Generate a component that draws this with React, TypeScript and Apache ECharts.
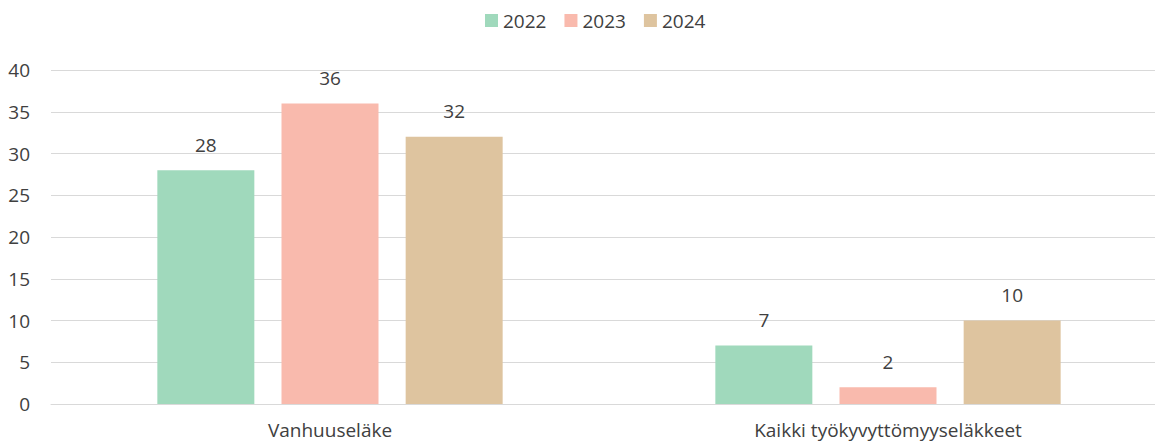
import React, { useEffect, useRef } from "react";
import * as echarts from "echarts";

const categories = ["Vanhuuseläke", "Kaikki työkyvyttömyyseläkkeet"];
const years = ["2022", "2023", "2024"];
const values2022 = [28, 7];
const values2023 = [36, 2];
const values2024 = [32, 10];
const colors = ["#A0D9BC", "#F9BAAD", "#DEC49F"];
const yTicks = { min: 0, max: 40, interval: 5 };

export default function App() {
  const ref = useRef<HTMLDivElement>(null);
  useEffect(() => {
    if (!ref.current) return;
    const chart = echarts.init(ref.current, null, { renderer: "svg" });
    const font = "'Open Sans', sans-serif";
    const seriesData = [values2022, values2023, values2024];
    chart.setOption({
      animation: false,
      textStyle: { fontFamily: font },
      legend: {
        top: 6,
        left: 480,
        itemWidth: 13,
        itemHeight: 13,
        itemGap: 18,
        icon: "rect",
        textStyle: { fontSize: 19, color: "#404040", fontFamily: font },
        data: years,
      },
      grid: { left: 51, top: 70, width: 1116, height: 334 },
      xAxis: {
        type: "category",
        data: categories,
        axisTick: { show: false },
        axisLine: { lineStyle: { color: "#d9d9d9", width: 1 } },
        axisLabel: { color: "#404040", fontSize: 19, margin: 16, lineHeight: 20, fontFamily: font },
      },
      yAxis: {
        type: "value",
        min: yTicks.min,
        max: yTicks.max,
        interval: yTicks.interval,
        axisLine: { show: false },
        axisTick: { show: false },
        splitLine: { lineStyle: { color: "#d9d9d9", width: 1 } },
        axisLabel: { color: "#404040", fontSize: 19, margin: 21, fontFamily: font },
      },
      series: years.map((y, i) => ({
        name: y,
        type: "bar",
        data: seriesData[i],
        barWidth: 97,
        barGap: "28%",
        itemStyle: { color: colors[i] },
        label: {
          show: true,
          position: "top",
          distance: 16,
          color: "#404040",
          fontSize: 19,
          fontFamily: font,
        },
      })),
    });
    return () => chart.dispose();
  }, []);
  return (
    <div style={{ position: "absolute", left: 0, top: 0, width: 1155, height: 444, overflow: "hidden", background: "#fff" }}>
      <div ref={ref} style={{ width: 1200, height: 444 }} />
    </div>
  );
}
